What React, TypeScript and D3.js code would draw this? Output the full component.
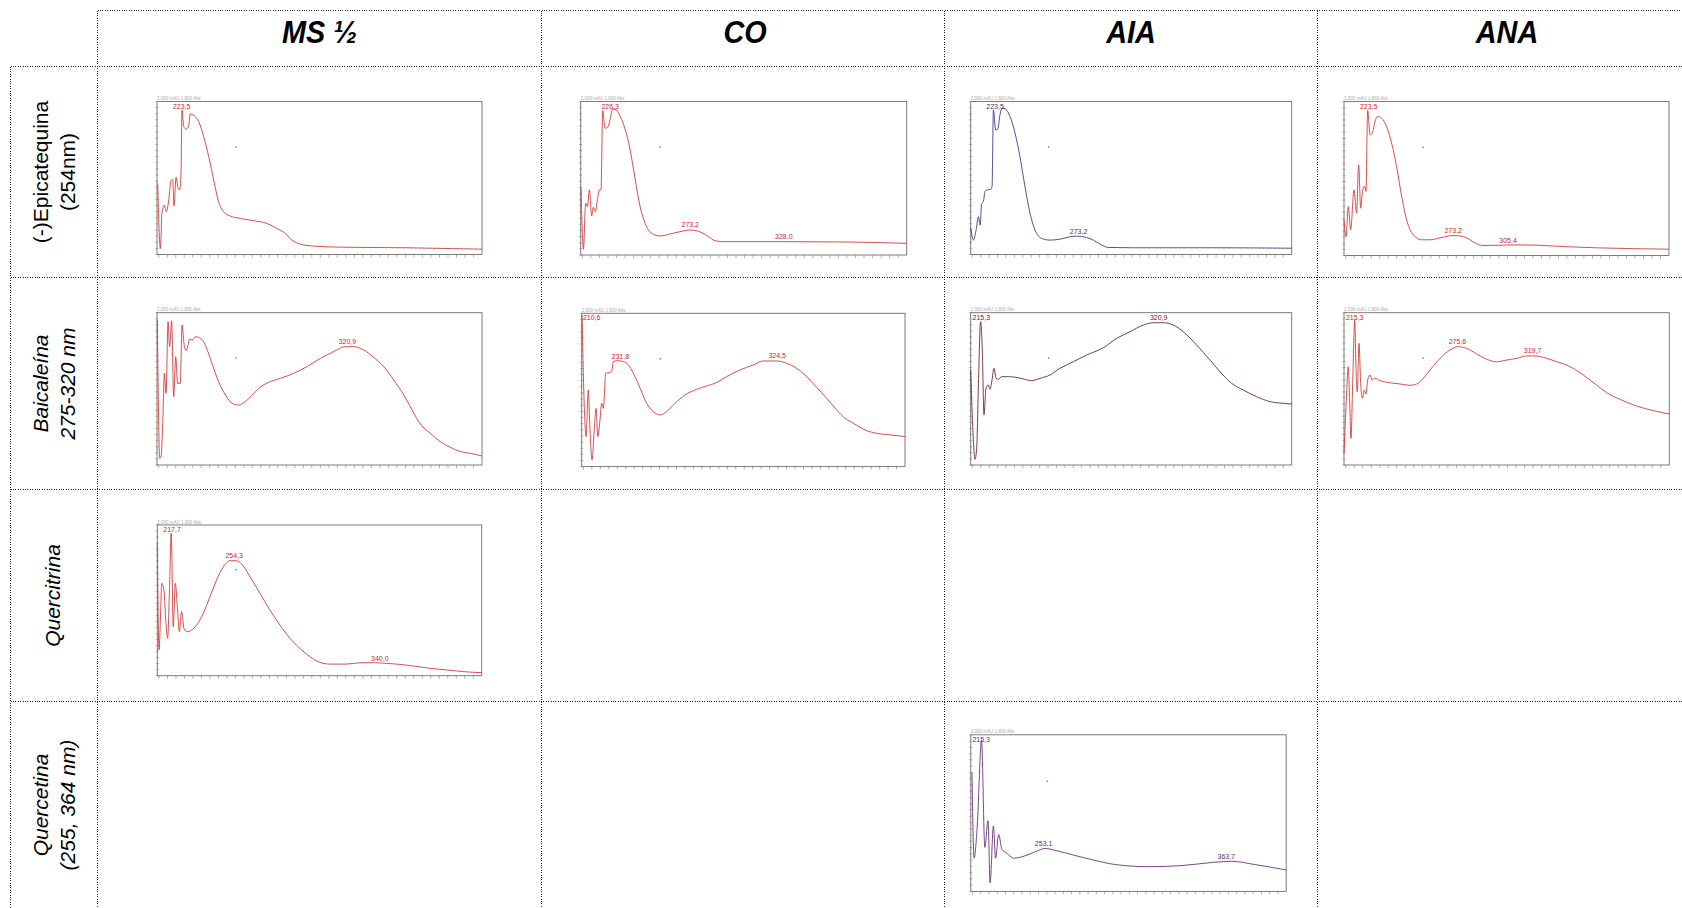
import React from "react";
import * as d3 from "d3";

// column headers and row labels of the table
const columns = ["MS ½", "CO", "AIA", "ANA"];
const rowLabels = [
  { lines: ["(-)Epicatequina", "(254nm)"], italic: false },
  { lines: ["Baicaleína", "275-320 nm"], italic: true },
  { lines: ["Quercitrina"], italic: true },
  { lines: ["Quercetina", "(255, 364 nm)"], italic: true },
];

// spectra: [wavelength nm, relative absorbance]
const epiMS = [[209.4,0.465],[211.0,0.039],[211.9,0.269],[213.3,0.323],[214.5,0.279],[215.9,0.356],[217.2,0.483],[218.2,0.491],[219.0,0.317],[220.2,0.504],[221.3,0.439],[222.3,0.421],[223.1,0.531],[223.7,0.945],[224.7,0.836],[226.2,0.819],[227.6,0.841],[228.6,0.919],[230.5,0.910],[233.5,0.869],[236.4,0.771],[239.4,0.640],[242.3,0.487],[245.2,0.345],[248.2,0.279],[252.1,0.251],[258.0,0.236],[265.8,0.221],[273.6,0.203],[279.5,0.170],[284.4,0.138],[288.3,0.094],[293.2,0.068],[301.1,0.055],[316.7,0.048],[355.9,0.044],[400,0.035]];
const epiMSPeaks = [223.5];

const epiCO = [[209.2,0.435],[210.6,0.037],[211.9,0.337],[212.9,0.315],[214.1,0.424],[215.4,0.254],[216.4,0.311],[217.6,0.283],[218.8,0.359],[219.9,0.424],[220.9,0.424],[221.9,0.941],[223.3,0.826],[224.8,0.833],[226.2,0.880],[227.7,0.950],[229.7,0.946],[232.0,0.907],[235.0,0.820],[237.9,0.689],[240.8,0.500],[243.8,0.315],[246.7,0.207],[250.6,0.141],[255.5,0.124],[261.3,0.137],[267.2,0.152],[273.1,0.163],[279.9,0.146],[283.8,0.120],[287.7,0.093],[292.6,0.087],[323.8,0.087],[362.9,0.085],[400,0.076]];
const epiCOPeaks = [226.3, 273.2, 328.0];

const epiAIA = [[209.0,0.177],[210.6,0.094],[212.2,0.159],[213.6,0.247],[214.6,0.192],[215.5,0.334],[216.5,0.345],[217.5,0.410],[218.5,0.421],[220.9,0.426],[221.7,0.443],[222.5,0.945],[223.9,0.814],[225.1,0.819],[226.5,0.919],[227.8,0.956],[229.8,0.950],[232.4,0.902],[235.4,0.793],[238.3,0.640],[241.3,0.443],[244.3,0.269],[247.3,0.159],[251.2,0.105],[256.2,0.094],[262.1,0.100],[268.1,0.116],[272.1,0.120],[278.0,0.111],[282.0,0.094],[285.9,0.068],[290.9,0.046],[305.8,0.044],[355.3,0.044],[400,0.041]];
const epiAIAPeaks = [223.5, 273.2];

const epiANA = [[209.0,0.232],[210.2,0.123],[211.5,0.318],[212.9,0.167],[214.9,0.426],[216.4,0.275],[217.6,0.589],[218.8,0.307],[220.0,0.426],[221.1,0.448],[221.9,0.416],[222.9,0.942],[224.3,0.784],[225.6,0.794],[227.2,0.870],[228.8,0.903],[231.1,0.892],[234.0,0.838],[237.0,0.729],[239.9,0.578],[242.9,0.383],[245.8,0.232],[249.7,0.134],[254.6,0.102],[259.5,0.102],[267.3,0.119],[273.2,0.130],[279.1,0.123],[283.0,0.102],[286.9,0.076],[290.8,0.065],[302.5,0.067],[310.4,0.069],[322.1,0.067],[337.8,0.058],[357.3,0.050],[400,0.041]];
const epiANAPeaks = [223.5, 273.2, 305.4];

const baiMS = [[209.2,0.952],[210.6,0.044],[211.4,0.059],[212.5,0.317],[213.3,0.602],[214.3,0.470],[215.5,0.941],[216.4,0.777],[217.6,0.947],[218.8,0.449],[220.0,0.711],[221.1,0.536],[222.7,0.536],[223.7,0.919],[225.1,0.777],[226.2,0.751],[227.2,0.788],[228.2,0.825],[229.8,0.821],[231.5,0.842],[233.5,0.838],[236.0,0.816],[238.4,0.759],[241.3,0.667],[245.2,0.547],[249.2,0.460],[253.1,0.405],[257.0,0.394],[260.9,0.416],[265.8,0.470],[270.7,0.519],[275.6,0.547],[281.5,0.569],[289.3,0.602],[297.2,0.646],[305.0,0.700],[312.8,0.744],[319.7,0.777],[324.6,0.777],[330.5,0.755],[336.3,0.707],[342.2,0.646],[348.1,0.558],[354.0,0.460],[358.9,0.361],[363.8,0.269],[369.6,0.208],[375.5,0.153],[381.4,0.116],[387.3,0.088],[393.1,0.077],[400,0.059]];
const baiMSPeaks = [320.9];

const baiCO = [[209.2,0.989],[210.4,0.435],[211.6,0.196],[212.9,0.500],[213.9,0.239],[215.1,0.043],[216.3,0.217],[217.5,0.380],[218.5,0.196],[219.8,0.304],[220.8,0.413],[221.8,0.380],[223.2,0.609],[225.7,0.613],[226.7,0.620],[227.7,0.685],[230.1,0.691],[233.6,0.685],[236.6,0.663],[239.5,0.609],[243.5,0.511],[247.4,0.413],[251.3,0.359],[255.3,0.337],[259.2,0.359],[264.1,0.413],[270.0,0.467],[276.9,0.504],[282.8,0.526],[288.7,0.548],[294.6,0.587],[302.5,0.630],[310.4,0.663],[316.3,0.689],[324.2,0.689],[330.1,0.674],[336.0,0.641],[341.9,0.587],[347.8,0.517],[353.7,0.446],[359.6,0.370],[364.6,0.315],[369.5,0.283],[376.4,0.239],[383.3,0.217],[391.2,0.207],[400,0.196]];
const baiCOPeaks = [210.6, 231.8, 324.5];

const baiAIA = [[209.0,0.624],[210.2,0.252],[211.6,0.037],[212.6,0.120],[213.6,0.536],[214.9,0.941],[215.9,0.755],[216.9,0.330],[218.1,0.503],[219.5,0.525],[220.5,0.497],[221.5,0.547],[222.9,0.635],[224.1,0.569],[225.5,0.562],[227.4,0.580],[231.4,0.580],[236.4,0.575],[240.3,0.565],[245.3,0.554],[250.2,0.569],[256.2,0.591],[262.1,0.635],[270.1,0.678],[278.0,0.722],[287.9,0.770],[295.9,0.832],[303.8,0.875],[311.7,0.919],[317.7,0.934],[323.6,0.934],[329.6,0.919],[335.5,0.875],[343.4,0.788],[351.4,0.689],[357.3,0.613],[364.3,0.536],[371.2,0.492],[379.1,0.449],[387.1,0.416],[395.0,0.405],[400,0.400]];
const baiAIAPeaks = [215.3, 320.9];

const baiANA = [[209.0,0.077],[210.2,0.383],[211.5,0.646],[212.3,0.427],[213.1,0.175],[214.1,0.536],[215.3,0.952],[216.0,0.646],[216.8,0.481],[217.8,0.799],[218.8,0.536],[219.8,0.438],[220.9,0.492],[221.9,0.466],[222.9,0.558],[224.3,0.591],[225.6,0.558],[227.2,0.569],[230.1,0.554],[236.0,0.540],[241.9,0.532],[247.7,0.523],[251.7,0.532],[255.6,0.569],[259.5,0.624],[265.4,0.700],[271.2,0.755],[276.1,0.777],[281.0,0.766],[286.9,0.729],[292.8,0.694],[298.6,0.678],[304.5,0.689],[310.4,0.700],[316.2,0.716],[321.1,0.716],[326.0,0.707],[333.9,0.678],[341.7,0.646],[349.5,0.591],[357.3,0.525],[363.2,0.475],[371.0,0.431],[380.8,0.387],[390.6,0.357],[400,0.335]];
const baiANAPeaks = [215.3, 275.6, 319.7];

const qtrMS = [[209.0,0.878],[210.0,0.170],[211.0,0.436],[211.6,0.613],[212.9,0.569],[214.1,0.347],[215.1,0.248],[216.1,0.546],[217.2,0.945],[218.4,0.325],[219.6,0.613],[220.8,0.458],[222.0,0.292],[223.3,0.425],[224.7,0.314],[226.3,0.292],[229.2,0.303],[232.2,0.336],[236.1,0.414],[240.0,0.524],[243.9,0.635],[247.9,0.723],[251.8,0.763],[255.7,0.763],[259.6,0.728],[263.6,0.657],[269.5,0.546],[275.3,0.436],[281.2,0.336],[287.1,0.248],[293.0,0.181],[298.9,0.126],[304.8,0.088],[310.7,0.077],[320.5,0.077],[328.4,0.086],[336.2,0.086],[344.1,0.082],[351.9,0.075],[359.8,0.064],[369.6,0.049],[379.4,0.038],[389.2,0.027],[400,0.020]];
const qtrMSPeaks = [217.7, 254.3, 340.0];

const qctAIA = [[209.7,0.760],[211.0,0.212],[212.9,0.418],[215.5,0.966],[217.5,0.281],[219.4,0.452],[220.7,0.055],[222.7,0.418],[224.0,0.212],[225.9,0.363],[227.9,0.267],[230.5,0.247],[235.0,0.212],[241.5,0.226],[248.0,0.253],[253.9,0.274],[261.0,0.260],[270.8,0.233],[283.8,0.199],[296.8,0.171],[316.3,0.158],[335.8,0.164],[355.3,0.185],[367.0,0.192],[381.3,0.171],[400,0.137]];
const qctAIAPeaks = [215.3, 253.1, 363.7];

const RED = "#d23c3c";
const RED_TXT = "#c81e28";

// table geometry
const colX = [97.5, 541.5, 944.5, 1317.5];
const rowY = [66.5, 277.5, 489.5, 701.5];
const W = 1682;
const H = 908;

const panels = [
  { data: epiMS, peaks: epiMSPeaks, color: RED, text: RED_TXT, x: 157, y: 101.5, w: 325, h: 153 },
  { data: epiCO, peaks: epiCOPeaks, color: RED, text: RED_TXT, x: 580.7, y: 101.5, w: 326, h: 153.5 },
  { data: epiAIA, peaks: epiAIAPeaks, color: "#3b4287", text: "#2c3378", x: 970.7, y: 101.5, w: 321, h: 153 },
  { data: epiANA, peaks: epiANAPeaks, color: RED, text: RED_TXT, x: 1344, y: 101.5, w: 325, h: 154 },
  { data: baiMS, peaks: baiMSPeaks, color: RED, text: RED_TXT, x: 157, y: 312.7, w: 325, h: 152.3 },
  { data: baiCO, peaks: baiCOPeaks, color: RED, text: RED_TXT, x: 581.7, y: 313.3, w: 323.3, h: 153.3 },
  { data: baiAIA, peaks: baiAIAPeaks, color: "#6e2a2e", text: "#6a2228", x: 970.7, y: 312.7, w: 321, h: 152.3 },
  { data: baiANA, peaks: baiANAPeaks, color: RED, text: RED_TXT, x: 1344, y: 312.7, w: 325.3, h: 152.3 },
  { data: qtrMS, peaks: qtrMSPeaks, color: RED, text: RED_TXT, x: 157.3, y: 525, w: 324.4, h: 150.7 },
  { data: qctAIA, peaks: qctAIAPeaks, color: "#6b3478", text: "#5e2a6c", x: 970.8, y: 734.8, w: 315.4, h: 156.6 },
];

const wlTicks = d3.range(210, 400, 5);
const absTicks = d3.range(0, 1.001, 0.04);

// highest point of the trace near a labelled peak, to sit the label on
function peakTop(data: number[][], wl: number) {
  const near = data.filter((d) => Math.abs(d[0] - wl) <= 1.6);
  if (near.length) return d3.max(near, (d) => d[1]) as number;
  const i = d3.bisector((d: number[]) => d[0]).left(data, wl);
  const a = data[Math.max(i - 1, 0)], b = data[Math.min(i, data.length - 1)];
  return b[0] === a[0] ? a[1] : a[1] + ((wl - a[0]) / (b[0] - a[0])) * (b[1] - a[1]);
}

function Spectrum({ p }: { p: any }) {
  const x = d3.scaleLinear().domain([209, 400]).range([0, p.w]);
  const y = d3.scaleLinear().domain([0, 1]).range([p.h, 0]);
  const line = d3.line<number[]>().x((d) => x(d[0])).y((d) => y(d[1])).curve(d3.curveMonotoneX);
  return (
    <g transform={`translate(${p.x},${p.y})`}>
      <text x={0} y={-1.5} fontSize={4.5} fill="#aaa" fontFamily="Liberation Sans, Arial, sans-serif">2,000 mAU 1,800 Abs</text>
      <rect width={p.w} height={p.h} fill="#fff" stroke="#6e6e6e" strokeWidth={0.9} />
      {wlTicks.map((t) => (
        <line key={"x" + t} x1={x(t)} x2={x(t)} y1={p.h} y2={p.h + 3} stroke="#8a8a8a" strokeWidth={0.7} />
      ))}
      {absTicks.map((t) => (
        <line key={"y" + t} x1={-1.5} x2={1.5} y1={y(t)} y2={y(t)} stroke="#8a8a8a" strokeWidth={0.7} />
      ))}
      <circle cx={p.w * 0.243} cy={p.h * 0.297} r={0.8} fill="#666" />
      <path d={line(p.data) || ""} fill="none" stroke={p.color} strokeWidth={1} strokeOpacity={0.9} />
      {p.peaks.map((pk: number) => {
        const px = Math.max(x(pk), 10);
        const py = Math.max(y(peakTop(p.data, pk)) - 2.5, 7);
        return (
          <text key={pk} x={px} y={py} fontSize={7} textAnchor="middle" fill={p.text}
            fontFamily="Liberation Sans, Arial, sans-serif">
            {pk.toFixed(1).replace(".", ",")}
          </text>
        );
      })}
    </g>
  );
}

const narrow = "'Liberation Sans Narrow', 'Arial Narrow', 'Liberation Sans', Arial, sans-serif";

export default function App() {
  const dot = { stroke: "#222", strokeWidth: 1, strokeDasharray: "1 1.4", shapeRendering: "crispEdges" };
  const colCenters = [319.7, 745, 1131, 1507];
  const rowCenters = rowY.map((r, i) => (i < 3 ? (r + rowY[i + 1]) / 2 : 805));
  return (
    <svg width={W} height={H} style={{ position: "fixed", left: 0, top: 0, background: "#fff" }}>
      {/* table grid */}
      <line x1={colX[0]} x2={W} y1={10.5} y2={10.5} {...dot} />
      {rowY.map((r) => (
        <line key={r} x1={10.5} x2={W} y1={r} y2={r} {...dot} />
      ))}
      <line x1={10.5} x2={10.5} y1={rowY[0]} y2={H} {...dot} />
      {colX.map((c) => (
        <line key={c} x1={c} x2={c} y1={10.5} y2={H} {...dot} />
      ))}
      {columns.map((c, i) => (
        <g key={c} transform={`translate(${colCenters[i]},43) scale(0.9,1)`}>
          <text x={0} y={0} textAnchor="middle" fontSize={32} fontWeight="bold"
            fontStyle="italic" fontFamily={narrow} fill="#000">
            {c}
          </text>
        </g>
      ))}
      {rowLabels.map((r, i) => {
        const n = r.lines.length;
        const cx = n === 1 ? 52 : 54;
        return (
          <g key={i} transform={`translate(${cx},${rowCenters[i]}) rotate(-90)`}>
            {r.lines.map((l, j) => (
              <text key={l} x={0} y={(j - (n - 1) / 2) * 27 + 7.5} textAnchor="middle" fontSize={21}
                fontStyle={r.italic ? "italic" : "normal"} fontFamily={narrow} fill="#000">
                {l}
              </text>
            ))}
          </g>
        );
      })}
      {panels.map((p, i) => (
        <Spectrum key={i} p={p} />
      ))}
    </svg>
  );
}
